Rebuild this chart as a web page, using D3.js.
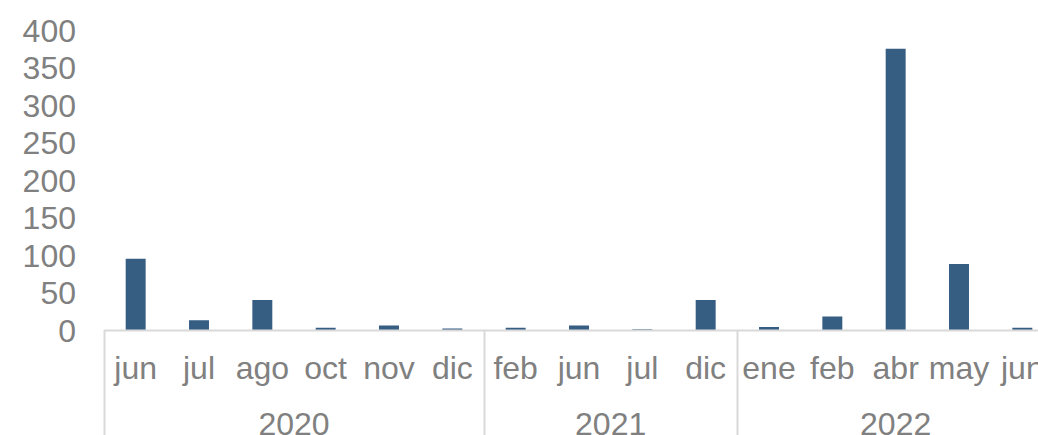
<!DOCTYPE html>
<html>
<head>
<meta charset="utf-8">
<script src="https://cdn.jsdelivr.net/npm/d3@7"></script>
<style>
  body { margin: 0; background: #fff; }
  svg { display: block; }
</style>
</head>
<body>
<div id="chart"></div>
<script>
var width = 1038,
  height = 435;

// data
var months = ["jun", "jul", "ago", "oct", "nov", "dic", "feb", "jun", "jul", "dic", "ene", "feb", "abr", "may", "jun"];
var years = ["2020", "2020", "2020", "2020", "2020", "2020", "2021", "2021", "2021", "2021", "2022", "2022", "2022", "2022", "2022"];
var values = [95, 13, 40, 3, 6, 2, 3, 6, 1, 40, 4, 18, 375, 88, 3];
var yTicks = [0, 50, 100, 150, 200, 250, 300, 350, 400];

var mydata = [];
for (var i = 0; i < values.length; i++) {
  mydata.push({ index: i, month: months[i], year: years[i], value: values[i] });
}

var plotLeft = 104, plotRight = 1054, plotTop = 30, plotBottom = 330;
var fontSize = 32;

let x = d3.scaleBand()
  .domain(d3.range(values.length))
  .range([plotLeft, plotRight])
  .paddingInner(0.685)
  .paddingOuter(0.3425);

let y = d3.scaleLinear()
  .domain([0, 400])
  .range([plotBottom, plotTop]);

var svg = d3.select("#chart").append("svg")
  .attr("width", width)
  .attr("height", height)
  .style("font-family", "'Liberation Sans', Arial, sans-serif");

var textColor = "#808080",
  lineColor = "#d9d9d9";

// y axis labels
svg.append("g")
  .attr("transform", "translate(76,0)")
  .call(d3.axisLeft(y).tickValues(yTicks).tickSize(0).tickPadding(0))
  .call(function (g) { g.select(".domain").remove(); })
  .selectAll("text")
  .attr("fill", textColor)
  .attr("font-size", fontSize)
  .attr("font-family", "'Liberation Sans', Arial, sans-serif")
  .attr("dy", "0.35em");

// bars
svg.selectAll("rect.bar")
  .data(mydata)
  .enter()
  .append("rect")
  .attr("class", "bar")
  .attr("x", function (d) { return x(d.index); })
  .attr("y", function (d) { return y(d.value); })
  .attr("width", x.bandwidth())
  .attr("height", function (d) { return y(0) - y(d.value); })
  .attr("fill", "#365d82");

// baseline
svg.append("line")
  .attr("x1", plotLeft)
  .attr("x2", plotRight)
  .attr("y1", plotBottom + 0.5)
  .attr("y2", plotBottom + 0.5)
  .attr("stroke", lineColor)
  .attr("stroke-width", 2);

// month labels
var step = x.step();
svg.selectAll("text.month")
  .data(mydata)
  .enter()
  .append("text")
  .attr("class", "month")
  .attr("x", function (d) { return x(d.index) + x.bandwidth() / 2; })
  .attr("y", 379)
  .attr("text-anchor", "middle")
  .attr("font-size", fontSize)
  .attr("fill", textColor)
  .text(function (d) { return d.month; });

// year groups
var groups = d3.groups(mydata, function (d) { return d.year; }).map(function (g) {
  var first = g[1][0].index, last = g[1][g[1].length - 1].index;
  return { year: g[0], x0: plotLeft + first * step, x1: plotLeft + (last + 1) * step };
});

svg.selectAll("line.sep")
  .data(groups)
  .enter()
  .append("line")
  .attr("class", "sep")
  .attr("x1", function (d) { return Math.round(d.x0) + 0.5; })
  .attr("x2", function (d) { return Math.round(d.x0) + 0.5; })
  .attr("y1", plotBottom)
  .attr("y2", height)
  .attr("stroke", lineColor)
  .attr("stroke-width", 2);

svg.selectAll("text.year")
  .data(groups)
  .enter()
  .append("text")
  .attr("class", "year")
  .attr("x", function (d) { return (d.x0 + d.x1) / 2; })
  .attr("y", 435)
  .attr("text-anchor", "middle")
  .attr("font-size", fontSize)
  .attr("fill", textColor)
  .text(function (d) { return d.year; });
</script>
</body>
</html>
